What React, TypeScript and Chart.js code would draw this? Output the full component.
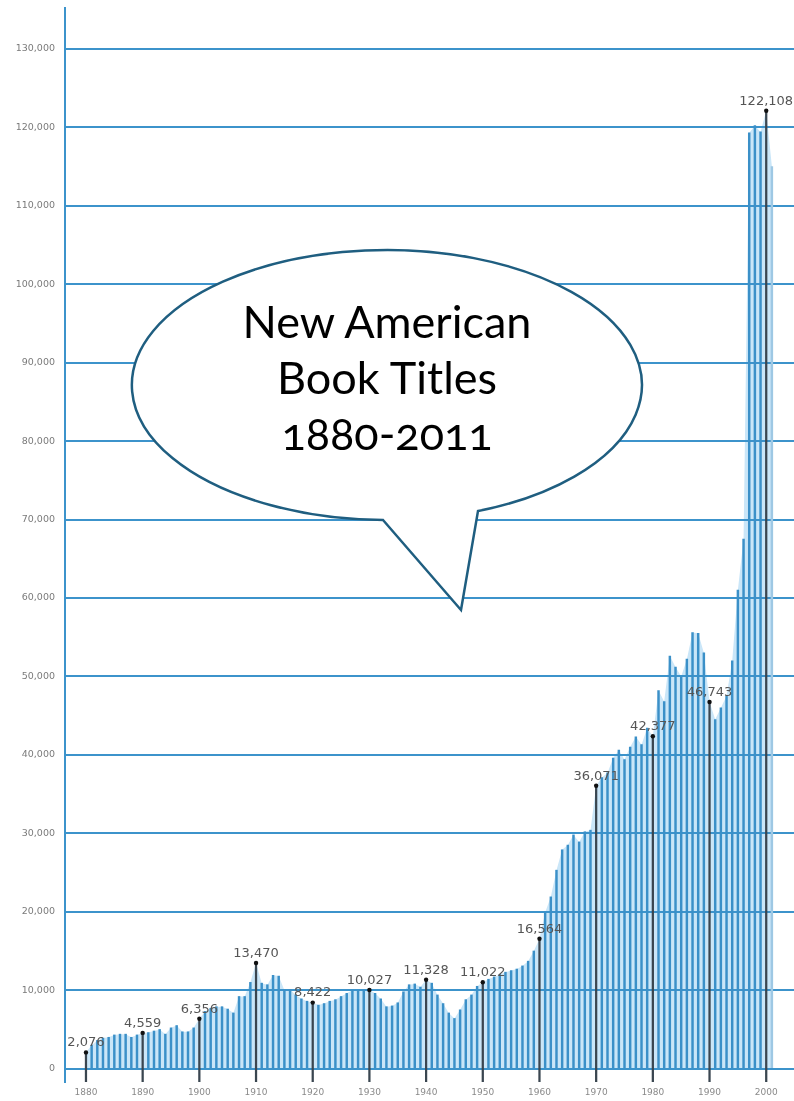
import React, { useEffect, useRef } from "react";
import { Chart, registerables } from "chart.js";

Chart.register(...registerables);

const FIRST_YEAR = 1880;

// New American book titles per year, 1880-2001
const titles = [
  2076, 3000, 3600, 3900, 4000, 4300, 4400, 4400, 4000, 4300,
  4559, 4600, 4800, 5000, 4400, 5200, 5500, 4700, 4700, 5200,
  6356, 7300, 7700, 7900, 7900, 7600, 7100, 9200, 9200, 11000,
  13470, 10900, 10700, 11900, 11800, 10000, 10100, 9400, 8900, 8600,
  8422, 8100, 8300, 8600, 8800, 9200, 9600, 10000, 10000, 10000,
  10027, 9600, 8900, 7900, 8000, 8400, 9800, 10700, 10800, 10400,
  11328, 10900, 9400, 8300, 7100, 6400, 7500, 8800, 9400, 10500,
  11022, 11400, 11700, 12000, 12300, 12500, 12700, 13100, 13700, 15000,
  16564, 19900, 21900, 25300, 27900, 28500, 29800, 28900, 30200, 30400,
  36071, 37100, 37700, 39600, 40600, 39400, 41000, 42300, 41300, 43400,
  42377, 48200, 46800, 52600, 51200, 50000, 52200, 55600, 55500, 53000,
  46743, 44500, 46000, 47500, 52000, 61000, 67500, 119300, 120200, 119400,
  122108, 115000,
];

const markedYears = [1880, 1890, 1900, 1910, 1920, 1930, 1940, 1950, 1960, 1970, 1980, 1990, 2000];
const xTickYears = [1880, 1890, 1900, 1910, 1920, 1930, 1940, 1950, 1960, 1970, 1980, 1990, 2000];
const yTickValues = [0, 10000, 20000, 30000, 40000, 50000, 60000, 70000, 80000, 90000, 100000, 110000, 120000, 130000];

const X_MIN = 1876.3;
const X_MAX = 2004.9;
const Y_MIN = -1700;
const Y_MAX = 135200;

const GRID_BLUE = "#3c93cb";
const BAR_BLUE = "#3b90c8";
const FILL_BLUE = "rgb(202,230,248)";
const MARK_DARK = "#3a4650";

export default function App() {
  const ref = useRef<HTMLCanvasElement | null>(null);

  useEffect(() => {
    if (!ref.current) return;
    const points = titles.map((v, i) => ({ x: FIRST_YEAR + i, y: v }));
    const regular = points.filter((p) => !markedYears.includes(p.x));
    const marked = points.filter((p) => markedYears.includes(p.x));
    const lastYear = FIRST_YEAR + titles.length - 1;

    const labelPlugin = {
      id: "markLabels",
      afterDatasetsDraw(chart: any) {
        const { ctx, scales } = chart;
        const xs = scales.x;
        const ys = scales.y;
        ctx.save();
        ctx.font = '13px "DejaVu Sans"';
        ctx.fillStyle = "#555555";
        ctx.textAlign = "center";
        ctx.textBaseline = "bottom";
        marked.forEach((p) => {
          ctx.fillText(
            p.y.toLocaleString("en-US"),
            xs.getPixelForValue(p.x),
            ys.getPixelForValue(p.y) - 3
          );
        });
        ctx.restore();
      },
    };

    const chart = new Chart(ref.current, {
      type: "bar",
      data: {
        datasets: [
          {
            type: "line",
            data: points,
            fill: "origin",
            backgroundColor: FILL_BLUE,
            borderWidth: 0,
            borderColor: "rgba(0,0,0,0)",
            pointRadius: 0,
            pointHoverRadius: 0,
            tension: 0,
            order: 4,
          } as any,
          {
            type: "bar",
            data: regular,
            backgroundColor: (c: any) =>
              c.raw && c.raw.x === lastYear ? "#9ec8e4" : BAR_BLUE,
            barThickness: 1.8,
            grouped: false,
            order: 3,
          } as any,
          {
            type: "bar",
            data: marked.map((p) => ({ x: p.x, y: [Y_MIN, p.y] })),
            backgroundColor: MARK_DARK,
            barThickness: 1.6,
            grouped: false,
            order: 2,
          } as any,
          {
            type: "scatter",
            data: marked,
            pointRadius: 2.2,
            pointHoverRadius: 2.2,
            backgroundColor: "#111",
            borderWidth: 0,
            order: 1,
          } as any,
        ],
      },
      options: {
        responsive: false,
        animation: false,
        events: [],
        layout: { autoPadding: false, padding: { top: 8, right: 0, left: 0, bottom: 0 } },
        plugins: {
          legend: { display: false },
          tooltip: { enabled: false },
          filler: { drawTime: "beforeDraw" },
        } as any,
        scales: {
          x: {
            type: "linear",
            min: X_MIN,
            max: X_MAX,
            offset: false,
            afterBuildTicks: (a: any) => {
              a.ticks = xTickYears.map((v) => ({ value: v }));
            },
            afterFit: (s: any) => {
              s.height = 19;
              s.paddingLeft = 0;
              s.paddingRight = 0;
            },
            grid: { display: false, drawTicks: false },
            border: { display: false },
            ticks: {
              autoSkip: false,
              maxRotation: 0,
              color: "#8a8a8a",
              font: { family: "DejaVu Sans", size: 9 },
              padding: 5,
              callback: (v: any) => String(v),
            },
          },
          y: {
            type: "linear",
            min: Y_MIN,
            max: Y_MAX,
            afterBuildTicks: (a: any) => {
              a.ticks = yTickValues.map((v) => ({ value: v }));
            },
            afterFit: (s: any) => {
              s.width = 65;
              s.paddingTop = 0;
              s.paddingBottom = 0;
            },
            grid: { color: GRID_BLUE, lineWidth: 2, drawTicks: false },
            border: { color: GRID_BLUE, width: 2 },
            ticks: {
              color: "#7a7a7a",
              font: { family: "DejaVu Sans", size: 9.5 },
              padding: 10,
              callback: (v: any) => Number(v).toLocaleString("en-US"),
            },
          },
        } as any,
      },
      plugins: [labelPlugin],
    } as any);

    return () => chart.destroy();
  }, []);

  return (
    <div style={{ position: "absolute", left: 0, top: 0, width: 794, height: 1101, background: "#fff" }}>
      <canvas ref={ref} width={794} height={1101} style={{ width: 794, height: 1101, display: "block" }} />
      <svg
        width={794}
        height={1101}
        style={{ position: "absolute", left: 0, top: 0, pointerEvents: "none" }}
      >
        <path
          d="M 383 520 L 461 610 L 478 511.1 A 255 135 0 1 0 383 520 Z"
          fill="#ffffff"
          stroke="#1f5e80"
          strokeWidth={2.5}
          strokeLinejoin="miter"
        />
        <g
          fontFamily="Lato, 'Open Sans', sans-serif"
          fontSize={45}
          textAnchor="middle"
          fill="#000"
          style={{ fontFeatureSettings: '"onum"' }}
        >
          <text x={387} y={338}>New American</text>
          <text x={387} y={394}>Book Titles</text>
          <text x={387} y={450}>1880-2011</text>
        </g>
      </svg>
    </div>
  );
}
